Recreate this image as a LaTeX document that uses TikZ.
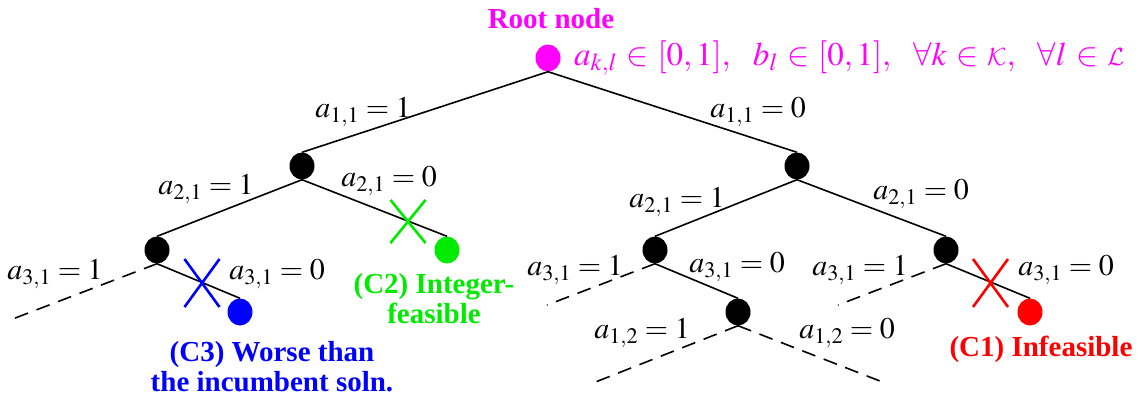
\documentclass[tikz,border=0pt]{standalone}
\usepackage{mathptmx}
\usepackage{fontspec}
\setmainfont{Liberation Serif}
\DeclareMathAlphabet{\mathcal}{OMS}{cmsy}{m}{n}
\thickmuskip=4mu plus 2mu
\usetikzlibrary{shapes.geometric}
\definecolor{cmag}{RGB}{255,0,255}
\definecolor{cgreen}{RGB}{0,235,0}
\definecolor{cblue}{RGB}{0,0,255}
\definecolor{cred}{RGB}{255,0,0}
\tikzset{
  bb/.style={ellipse,fill=#1,minimum width=25pt,minimum height=27pt,inner sep=0pt},
  bb/.default=black,
  edge/.style={line width=1.6pt},
  dsh/.style={line width=1.6pt,dash pattern=on 14pt off 9pt},
  lbl/.style={inner sep=0pt,font=\fontsize{30}{34}\selectfont},
  ctxt/.style={inner sep=0pt,align=center,font=\fontsize{29}{30}\selectfont\bfseries},
  xmark/.style={line width=2.6pt}
}
\begin{document}
\begin{tikzpicture}[x=1pt,y=-1pt]
\useasboundingbox (0,0) rectangle (1142,402);
% nodes
\node[bb=cmag] (root) at (548,58) {};
\node[bb] (l1) at (302,166) {};
\node[bb] (r1) at (797,166) {};
\node[bb] (ll) at (157,250) {};
\node[bb=cgreen] (lr) at (447,250) {};
\node[bb] (rl) at (655,250) {};
\node[bb] (rr) at (946,250) {};
\node[bb=cblue] (llr) at (240,312) {};
\node[bb] (rlr) at (738,312) {};
\node[bb=cred] (rrr) at (1030,312) {};
% dangling ends
\coordinate (d1) at (10,320);
\coordinate (d2) at (547,305);
\coordinate (d3) at (593,383);
\coordinate (d4) at (885,383);
\coordinate (d5) at (838,305);
% edges
\draw[edge] (root.south) -- (l1.north);
\draw[edge] (root.south) -- (r1.north);
\draw[edge] (l1.south) -- (ll.north);
\draw[edge] (l1.south) -- (lr.north);
\draw[edge] (r1.south) -- (rl.north);
\draw[edge] (r1.south) -- (rr.north);
\draw[edge] (ll.south) -- (llr.north);
\draw[edge] (rl.south) -- (rlr.north);
\draw[edge] (rr.south) -- (rrr.north);
\draw[dsh] (ll.south) -- (d1);
\draw[dsh] (rl.south) -- (d2);
\draw[dsh] (rlr.south) -- (d3);
\draw[dsh] (rlr.south) -- (d4);
\draw[dsh] (rr.south) -- (d5);
% crosses
\draw[xmark,cblue] (184.5,259) -- (219.5,307) (219.5,259) -- (184.5,307);
\draw[xmark,cgreen] (390.5,200) -- (425.5,243) (425.5,200) -- (390.5,243);
\draw[xmark,cred] (973,259) -- (1008,307) (1008,259) -- (973,307);
% labels
\node[lbl] (t11a) at (363,112) {$a_{1,1}=1$};
\node[lbl] (t11b) at (758,112) {$a_{1,1}=0$};
\node[lbl] (t21a) at (206,189) {$a_{2,1}=1$};
\node[lbl] (t21b) at (389,181) {$a_{2,1}=0$};
\node[lbl] (t21c) at (677,202) {$a_{2,1}=1$};
\node[lbl] (t21d) at (921,194) {$a_{2,1}=0$};
\node[lbl] (t31a) at (55,274) {$a_{3,1}=1$};
\node[lbl] (t31b) at (277,274) {$a_{3,1}=0$};
\node[lbl] (t31c) at (575,270) {$a_{3,1}=1$};
\node[lbl] (t31d) at (737,267) {$a_{3,1}=0$};
\node[lbl] (t31e) at (860,270) {$a_{3,1}=1$};
\node[lbl] (t31f) at (1066,270) {$a_{3,1}=0$};
\node[lbl] (t12a) at (642,333) {$a_{1,2}=1$};
\node[lbl] (t12b) at (847,333) {$a_{1,2}=0$};
\node[lbl,text=cmag,anchor=west,font=\fontsize{33}{36}\selectfont] (form) at (574,58) {$\thickmuskip=5mu a_{k,l}\in[0,1],\mkern10mu b_{l}\in[0,1],\mkern10mu \forall k\in\mathcal{K},\mkern10mu \forall l\in\mathcal{L}$};
\node[ctxt,text=cmag] (rootlbl) at (551,19) {Root node};
\node[ctxt,text=cblue] (c3) at (272,367) {(C3) Worse than\\the incumbent soln.};
\node[ctxt,text=cgreen] (c2) at (434,299) {(C2) Integer-\\feasible};
\node[ctxt,text=cred] (c1) at (1041,349) {(C1) Infeasible};
\end{tikzpicture}
\end{document}
